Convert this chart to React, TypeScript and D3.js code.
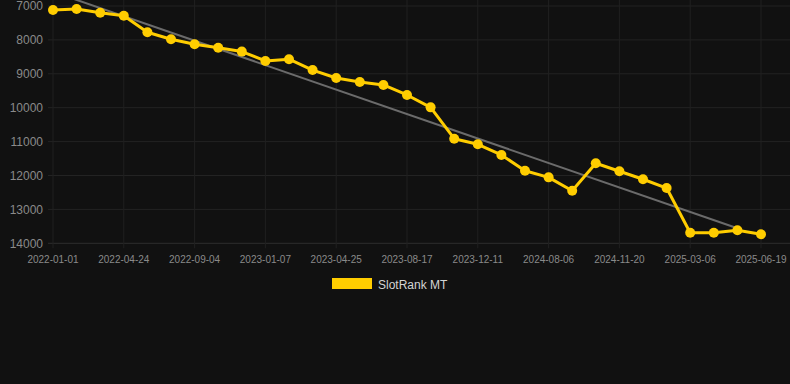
import React from 'react';
import * as d3 from 'd3';

// categories (every 3rd one is labelled on the axis)
const dates = [
  '2022-01-01', '2022-02-08', '2022-03-17', '2022-04-24', '2022-06-07', '2022-07-21',
  '2022-09-04', '2022-10-17', '2022-11-26', '2023-01-07', '2023-02-14', '2023-03-20',
  '2023-04-25', '2023-05-31', '2023-07-12', '2023-08-17', '2023-09-28', '2023-11-02',
  '2023-12-11', '2024-03-02', '2024-05-20', '2024-08-06', '2024-09-10', '2024-10-15',
  '2024-11-20', '2024-12-25', '2025-01-30', '2025-03-06', '2025-04-10', '2025-05-15',
  '2025-06-19',
];

const rankValues = [
  7120, 7090, 7200, 7290, 7775, 7980, 8130, 8230, 8345, 8620, 8570, 8890,
  9125, 9240, 9330, 9625, 9990, 10915, 11080, 11395, 11860, 12055, 12450, 11640,
  11875, 12110, 12370, 13690, 13690, 13615, 13735,
];

// trend line endpoints [category index, value]
const trendPoints: [number, number][] = [
  [0, 6580],
  [29, 13555],
];

const yTicks = [7000, 8000, 9000, 10000, 11000, 12000, 13000, 14000];
const seriesName = 'SlotRank MT';

const W = 790;
const H = 384;
const font = 'Liberation Sans, Arial, Helvetica, sans-serif';

export default function App() {
  const x = d3.scalePoint<string>().domain(dates).range([53, 761]);
  const y = d3.scaleLinear().domain([6823, 14000]).range([0, 243.3]);
  const xLabels = dates.filter((_, i) => i % 3 === 0);

  const line = d3
    .line<number>()
    .x((_, i) => x(dates[i]) ?? 0)
    .y((d) => y(d));

  const trend = d3
    .line<[number, number]>()
    .x((d) => x(dates[d[0]]) ?? 0)
    .y((d) => y(d[1]));

  const bottom = y(14000);

  return (
    <svg
      width={W}
      height={H}
      style={{ position: 'absolute', left: 0, top: 0, background: '#111111' }}
    >
      <defs>
        <clipPath id="plot">
          <rect x={0} y={0} width={W} height={bottom + 1} />
        </clipPath>
      </defs>
      <rect width={W} height={H} fill="#111111" />

      {/* horizontal grid + y labels */}
      {yTicks.map((t) => (
        <g key={t}>
          <line
            x1={48}
            x2={W}
            y1={y(t)}
            y2={y(t)}
            stroke={t === 14000 ? '#2e2e2e' : '#232323'}
            strokeWidth={1}
          />
          <text
            x={43}
            y={y(t)}
            dy="0.35em"
            textAnchor="end"
            fontFamily={font}
            fontSize={12}
            fill="#8a8a8a"
          >
            {t}
          </text>
        </g>
      ))}

      {/* vertical grid + x labels */}
      {xLabels.map((d) => (
        <g key={d}>
          <line
            x1={x(d)}
            x2={x(d)}
            y1={0}
            y2={bottom + 5}
            stroke="#202020"
            strokeWidth={1}
          />
          <text
            x={x(d)}
            y={bottom + 20}
            textAnchor="middle"
            fontFamily={font}
            fontSize={10}
            fill="#8a8a8a"
          >
            {d}
          </text>
        </g>
      ))}

      {/* trend */}
      <path
        d={trend(trendPoints) ?? ''}
        fill="none"
        stroke="#6b6b6b"
        strokeWidth={2}
        clipPath="url(#plot)"
      />

      {/* series */}
      <path
        d={line(rankValues) ?? ''}
        fill="none"
        stroke="#ffcd00"
        strokeWidth={3}
        strokeLinejoin="round"
      />
      {rankValues.map((v, i) => (
        <circle key={i} cx={x(dates[i])} cy={y(v)} r={5} fill="#ffcd00" />
      ))}

      {/* legend */}
      <rect x={332} y={278} width={40} height={11} fill="#ffcd00" />
      <text x={378} y={288.5} fontFamily={font} fontSize={12} fill="#d4d4d4">
        {seriesName}
      </text>
    </svg>
  );
}
